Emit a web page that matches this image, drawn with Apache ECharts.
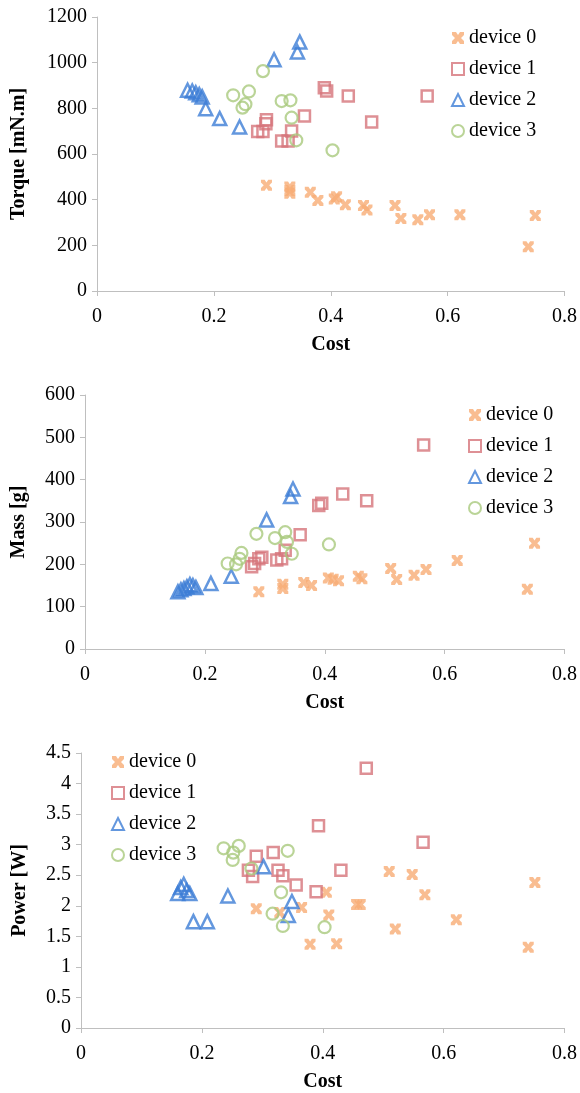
<!DOCTYPE html>
<html>
<head>
<meta charset="utf-8">
<script src="https://cdn.jsdelivr.net/npm/echarts@6/dist/echarts.min.js"></script>
<style>
  html, body { margin: 0; padding: 0; background: #fff; }
  #main { width: 580px; height: 1093px; }
</style>
</head>
<body>
<div id="main"></div>
<script>
var names = ['device 0', 'device 1', 'device 2', 'device 3'];
var costTicks = [0, 0.2, 0.4, 0.6, 0.8];

// torque [mN.m] vs cost
var torqueCost0 = [0.29, 0.33, 0.33, 0.33, 0.365, 0.378, 0.406, 0.41, 0.425, 0.456, 0.462, 0.51, 0.52, 0.549, 0.569, 0.621, 0.738, 0.75];
var torque0 = [463, 455, 440, 428, 432, 396, 403, 413, 378, 374, 355, 374, 317, 312, 334, 334, 194, 331];
var torqueCost1 = [0.275, 0.284, 0.289, 0.29, 0.316, 0.327, 0.333, 0.355, 0.389, 0.393, 0.43, 0.47, 0.565];
var torque1 = [699, 699, 733, 750, 657, 657, 701, 766, 890, 876, 854, 740, 854];
var torqueCost2 = [0.155, 0.163, 0.169, 0.175, 0.18, 0.186, 0.21, 0.244, 0.303, 0.343, 0.347];
var torque2 = [879, 876, 868, 860, 850, 798, 755, 718, 1013, 1047, 1090];
var torqueCost3 = [0.233, 0.249, 0.254, 0.26, 0.284, 0.316, 0.331, 0.333, 0.341, 0.403];
var torque3 = [857, 803, 818, 874, 963, 832, 835, 759, 660, 616];

// mass [g] vs cost
var massCost0 = [0.29, 0.33, 0.33, 0.365, 0.378, 0.406, 0.414, 0.423, 0.456, 0.462, 0.51, 0.52, 0.549, 0.569, 0.621, 0.738, 0.75];
var mass0 = [135, 143, 153, 157, 150, 168, 165, 161, 172, 166, 190, 164, 174, 188, 209, 141, 250];
var massCost1 = [0.278, 0.283, 0.29, 0.295, 0.32, 0.328, 0.334, 0.359, 0.39, 0.395, 0.43, 0.47, 0.565];
var mass1 = [194, 202, 213, 217, 210, 213, 233, 270, 339, 344, 366, 350, 482];
var massCost2 = [0.155, 0.16, 0.165, 0.17, 0.175, 0.18, 0.185, 0.21, 0.244, 0.303, 0.343, 0.347];
var mass2 = [135, 140, 143, 147, 152, 150, 145, 155, 172, 305, 360, 378];
var massCost3 = [0.238, 0.252, 0.258, 0.261, 0.286, 0.317, 0.334, 0.337, 0.345, 0.407];
var mass3 = [202, 200, 213, 227, 272, 262, 276, 253, 225, 247];

// power [W] vs cost
var powerCost0 = [0.29, 0.329, 0.365, 0.379, 0.406, 0.41, 0.423, 0.456, 0.462, 0.51, 0.52, 0.548, 0.569, 0.621, 0.74, 0.751];
var power0 = [1.95, 1.89, 1.97, 1.37, 2.22, 1.85, 1.38, 2.02, 2.02, 2.56, 1.62, 2.51, 2.18, 1.77, 1.32, 2.38];
var powerCost1 = [0.277, 0.284, 0.29, 0.318, 0.326, 0.334, 0.356, 0.389, 0.393, 0.43, 0.472, 0.566];
var power1 = [2.58, 2.48, 2.81, 2.87, 2.58, 2.49, 2.34, 2.23, 3.31, 2.58, 4.25, 3.04];
var powerCost2 = [0.16, 0.165, 0.17, 0.175, 0.18, 0.186, 0.209, 0.243, 0.302, 0.343, 0.349];
var power2 = [2.2, 2.3, 2.35, 2.25, 2.2, 1.74, 1.74, 2.16, 2.64, 1.84, 2.07];
var powerCost3 = [0.236, 0.251, 0.252, 0.261, 0.282, 0.317, 0.331, 0.334, 0.342, 0.403];
var power3 = [2.94, 2.75, 2.87, 2.98, 2.61, 1.87, 2.22, 1.67, 2.90, 1.65];

var xMark = 'path://M0,0H4L6,3L8,0H12V3L9,6L12,9V12H8L6,9L4,12H0V9L3,6L0,3Z';
var font = "'Liberation Serif', 'Times New Roman', serif";

var marks = [
  { symbol: xMark, size: 11, style: { color: '#F7AD75' } },
  { symbol: 'rect', size: 11, style: { color: 'rgba(255,255,255,0)', borderColor: '#D6747A', borderWidth: 2.5 } },
  { symbol: 'triangle', size: 13, style: { color: 'rgba(255,255,255,0)', borderColor: '#3C7DD6', borderWidth: 2.5 } },
  { symbol: 'circle', size: 12, style: { color: 'rgba(255,255,255,0)', borderColor: '#A9C97D', borderWidth: 2.2 } }
];

function pts(xs, ys) {
  var d = [];
  for (var i = 0; i < xs.length; i++) {
    d.push([xs[i], ys[i]]);
  }
  return d;
}

var panels = [
  [pts(torqueCost0, torque0), pts(torqueCost1, torque1), pts(torqueCost2, torque2), pts(torqueCost3, torque3)],
  [pts(massCost0, mass0), pts(massCost1, mass1), pts(massCost2, mass2), pts(massCost3, mass3)],
  [pts(powerCost0, power0), pts(powerCost1, power1), pts(powerCost2, power2), pts(powerCost3, power3)]
];

var grids = [
  { left: 97, right: 13, top: 17, height: 274 },
  { left: 85, right: 14, top: 395, height: 254 },
  { left: 81, right: 14, top: 753, height: 275 }
];
var yNames = ['Torque [mN.m]', 'Mass [g]', 'Power [W]'];
var yMax = [1200, 600, 4.5];
var yStep = [200, 100, 0.5];
var yNameGap = [68, 56, 51];
var legendPos = [
  { left: 446, top: 23 },
  { left: 463, top: 400 },
  { left: 106, top: 747 }
];

var axisLine = { lineStyle: { color: '#BFBFBF', width: 1 } };
var xAxis = [], yAxis = [], series = [], legend = [];

for (var p = 0; p < 3; p++) {
  xAxis.push({
    type: 'value', gridIndex: p, min: costTicks[0], max: costTicks[costTicks.length - 1], interval: 0.2,
    name: 'Cost', nameLocation: 'middle', nameGap: 44,
    nameTextStyle: { fontFamily: font, fontWeight: 'bold', fontSize: 20, color: '#000' },
    axisLine: axisLine, axisTick: { show: true, length: 5, lineStyle: { color: '#BFBFBF' } },
    splitLine: { show: false },
    axisLabel: { fontFamily: font, fontSize: 20, color: '#000', margin: 16 }
  });
  yAxis.push({
    type: 'value', gridIndex: p, min: 0, max: yMax[p], interval: yStep[p],
    name: yNames[p], nameLocation: 'middle', nameGap: yNameGap[p], nameRotate: 90,
    nameTextStyle: { fontFamily: font, fontWeight: 'bold', fontSize: 20, color: '#000' },
    axisLine: { show: true, lineStyle: { color: '#BFBFBF', width: 1 } },
    axisTick: { show: true, length: 5, lineStyle: { color: '#BFBFBF' } },
    splitLine: { show: false },
    axisLabel: {
      fontFamily: font, fontSize: 20, color: '#000', margin: 10,
      formatter: function(v) { return String(v); }
    }
  });
  for (var k = 0; k < 4; k++) {
    series.push({
      name: names[k], type: 'scatter', xAxisIndex: p, yAxisIndex: p,
      symbol: marks[k].symbol, symbolSize: marks[k].size,
      itemStyle: marks[k].style,
      data: panels[p][k]
    });
  }
  var items = [];
  for (var k = 0; k < 4; k++) {
    items.push({ name: names[k], icon: marks[k].symbol });
  }
  legend.push({
    orient: 'vertical', left: legendPos[p].left, top: legendPos[p].top, itemGap: 11,
    itemWidth: 12, itemHeight: 12, itemTextGap: 4,
    textStyle: { fontFamily: font, fontSize: 20, color: '#000' },
    data: items
  });
}

var myChart = echarts.init(document.getElementById('main'));
myChart.setOption({
  backgroundColor: '#fff',
  animation: false,
  grid: grids,
  xAxis: xAxis,
  yAxis: yAxis,
  legend: legend,
  series: series
});
</script>
</body>
</html>
